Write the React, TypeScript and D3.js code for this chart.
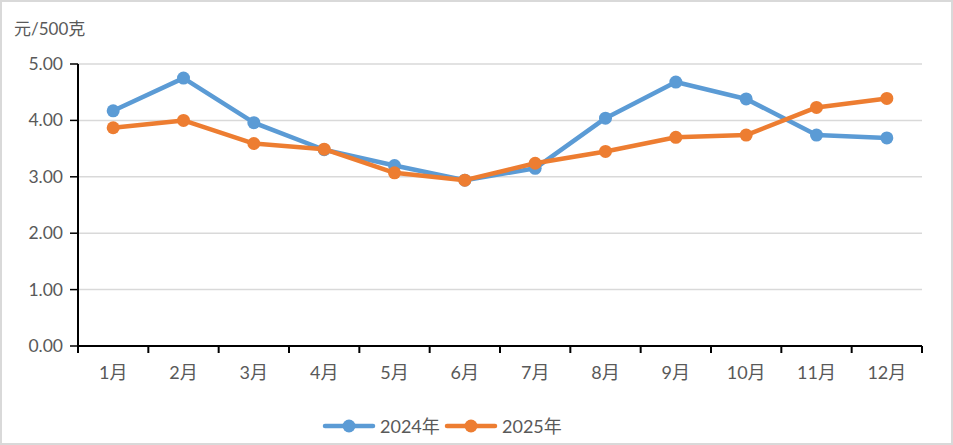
import React from "react";
import * as d3 from "d3";

const months = ["1月", "2月", "3月", "4月", "5月", "6月", "7月", "8月", "9月", "10月", "11月", "12月"];
const values2024 = [4.17, 4.75, 3.96, 3.48, 3.2, 2.94, 3.15, 4.04, 4.68, 4.38, 3.74, 3.69];
const values2025 = [3.87, 4.0, 3.59, 3.49, 3.07, 2.94, 3.24, 3.45, 3.7, 3.74, 4.23, 4.39];
const yTicks = [0, 1, 2, 3, 4, 5];
const seriesNames = ["2024年", "2025年"];
const colors = ["#5B9BD5", "#ED7D31"];
const unitLabel = "元/500克";

const W = 953;
const H = 445;
const left = 78;
const right = 922;
const top = 64;
const bottom = 346;
const font = "Lato, 'Noto Sans CJK SC', sans-serif";
const textColor = "#595959";

export default function App() {
  const x = d3.scaleBand<string>().domain(months).range([left, right]).padding(0);
  const y = d3.scaleLinear().domain([0, 5]).range([bottom, top]);
  const line = d3
    .line<number>()
    .x((_, i) => (x(months[i]) as number) + x.bandwidth() / 2)
    .y((d) => y(d));
  const series = [values2024, values2025];
  const boundaries = months.map((m) => x(m) as number).concat([right]);

  return (
    <svg
      width={W}
      height={H}
      style={{ position: "fixed", top: 0, left: 0, background: "#fff" }}
      fontFamily={font}
    >
      <rect x={1} y={1} width={W - 2} height={H - 2} fill="#fff" stroke="#D9D9D9" strokeWidth={2} />
      <text x={14} y={35} fontSize={17} fill={textColor}>
        {unitLabel}
      </text>
      {yTicks.map((t) => (
        <g key={t}>
          {t > 0 && (
            <line x1={left} x2={right} y1={y(t)} y2={y(t)} stroke="#D9D9D9" strokeWidth={1.5} />
          )}
          <line x1={70} x2={left} y1={y(t)} y2={y(t)} stroke="#000" strokeWidth={1.5} />
          <text x={63} y={y(t) + 6} fontSize={17.5} fill={textColor} textAnchor="end">
            {t.toFixed(2)}
          </text>
        </g>
      ))}
      <line x1={left} x2={left} y1={top} y2={bottom} stroke="#000" strokeWidth={2} />
      <line x1={left} x2={right} y1={bottom} y2={bottom} stroke="#000" strokeWidth={2} />
      {boundaries.map((b, i) => (
        <line key={i} x1={b} x2={b} y1={bottom} y2={bottom + 7} stroke="#000" strokeWidth={2} />
      ))}
      {months.map((m) => (
        <text
          key={m}
          x={(x(m) as number) + x.bandwidth() / 2}
          y={379}
          fontSize={18}
          fill={textColor}
          textAnchor="middle"
        >
          {m}
        </text>
      ))}
      {series.map((s, si) => (
        <g key={si}>
          <path d={line(s) || ""} fill="none" stroke={colors[si]} strokeWidth={4.5} strokeLinejoin="round" />
          {s.map((v, i) => (
            <circle
              key={i}
              cx={(x(months[i]) as number) + x.bandwidth() / 2}
              cy={y(v)}
              r={6.5}
              fill={colors[si]}
            />
          ))}
        </g>
      ))}
      {seriesNames.map((n, i) => {
        const lx = 325 + i * 122;
        return (
          <g key={n}>
            <line x1={lx} x2={lx + 48} y1={426} y2={426} stroke={colors[i]} strokeWidth={4.5} strokeLinecap="round" />
            <circle cx={lx + 24} cy={426} r={6.5} fill={colors[i]} />
            <text x={lx + 55} y={433} fontSize={18} fill={textColor}>
              {n}
            </text>
          </g>
        );
      })}
    </svg>
  );
}
